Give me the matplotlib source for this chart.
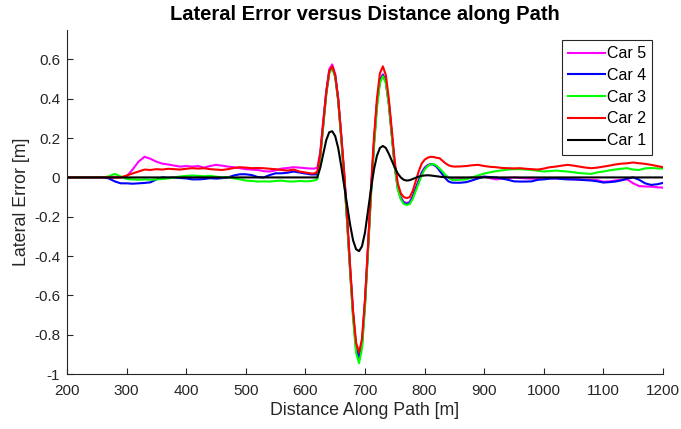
import numpy as np
import matplotlib
matplotlib.use("Agg")
import matplotlib.pyplot as plt
from matplotlib.ticker import FuncFormatter

plt.rcParams['font.family'] = ['Liberation Sans', 'DejaVu Sans']

# distance grid (m): coarse before/after the manoeuvre, fine through it
distance = np.concatenate([np.arange(200, 611, 10),
                           np.arange(615, 851, 5),
                           np.arange(860, 1201, 10)])

car1 = ([0.0] * 42 +
        [0.0, 0.0, 0.05, 0.12, 0.19, 0.23, 0.235, 0.21, 0.15, 0.06,
         -0.04, -0.14, -0.24, -0.32, -0.365, -0.375, -0.35, -0.28, -0.17, -0.06,
         0.04, 0.11, 0.15, 0.16, 0.15, 0.12, 0.085, 0.05, 0.02, 0.0,
         -0.012, -0.016, -0.014, -0.008, -0.002, 0.004, 0.008, 0.01, 0.011, 0.01,
         0.008, 0.006, 0.004, 0.002, 0.001, 0.0, 0.0, 0.0] +
        [0.0] * 35)

car2 = ([0.0, 0.0, 0.0, 0.0, 0.0, 0.0, 0.0, 0.0, 0.0,
         0.0, 0.01, 0.02, 0.03, 0.04, 0.038, 0.042, 0.04, 0.044, 0.042,
         0.04, 0.044, 0.047, 0.045, 0.047, 0.042, 0.04, 0.038, 0.042, 0.048,
         0.052, 0.05, 0.047, 0.048, 0.047, 0.044, 0.042, 0.038, 0.035, 0.04,
         0.03, 0.025, 0.02] +
        [0.02, 0.03, 0.12, 0.28, 0.43, 0.54, 0.565, 0.52, 0.40, 0.22,
         0.03, -0.20, -0.45, -0.68, -0.84, -0.89, -0.82, -0.62, -0.35, -0.06,
         0.20, 0.40, 0.53, 0.565, 0.52, 0.40, 0.24, 0.08, -0.03, -0.08,
         -0.10, -0.105, -0.10, -0.07, -0.02, 0.03, 0.07, 0.09, 0.10, 0.105,
         0.104, 0.10, 0.098, 0.085, 0.072, 0.062, 0.057, 0.055] +
        [0.056, 0.058, 0.062, 0.064, 0.058, 0.054, 0.052, 0.048, 0.047, 0.046,
         0.047, 0.044, 0.042, 0.04, 0.045, 0.052, 0.055, 0.06, 0.064, 0.06,
         0.055, 0.05, 0.047, 0.05, 0.055, 0.06, 0.066, 0.07, 0.072, 0.076,
         0.072, 0.069, 0.064, 0.058, 0.052])

car3 = ([0.0, 0.0, 0.0, 0.0, 0.0, 0.0, 0.0,
         0.005, 0.018, 0.005, -0.008, -0.01, -0.012, -0.01, -0.012, -0.01, -0.008,
         -0.005, 0.0, 0.005, 0.008, 0.01, 0.008, 0.006, 0.008, 0.004, 0.0,
         0.002, -0.005, -0.01, -0.016, -0.018, -0.021, -0.02, -0.021, -0.018, -0.016,
         -0.02, -0.021, -0.018, -0.02, -0.018] +
        [-0.015, -0.01, 0.10, 0.26, 0.42, 0.53, 0.555, 0.51, 0.39, 0.20,
         0.0, -0.23, -0.48, -0.72, -0.89, -0.945, -0.87, -0.66, -0.38, -0.10,
         0.15, 0.35, 0.48, 0.515, 0.48, 0.37, 0.21, 0.05, -0.06, -0.11,
         -0.135, -0.14, -0.135, -0.11, -0.07, -0.03, 0.01, 0.04, 0.058, 0.066,
         0.068, 0.06, 0.045, 0.03, 0.012, 0.0, -0.012, -0.013] +
        [-0.012, -0.01, 0.0, 0.01, 0.02, 0.026, 0.032, 0.036, 0.04, 0.042,
         0.042, 0.04, 0.038, 0.034, 0.03, 0.032, 0.035, 0.032, 0.03, 0.026,
         0.022, 0.02, 0.018, 0.026, 0.03, 0.036, 0.04, 0.044, 0.047, 0.04,
         0.038, 0.046, 0.048, 0.046, 0.045])

car4 = ([0.0, 0.0, 0.0, 0.0, 0.0, 0.0, 0.0,
         -0.005, -0.02, -0.03, -0.03, -0.032, -0.03, -0.028, -0.025, -0.01, 0.0,
         -0.002, 0.0, -0.003, -0.005, -0.01, -0.01, -0.008, -0.004, -0.006, -0.004,
         0.0, 0.01, 0.016, 0.016, 0.012, 0.002, 0.0, 0.012, 0.021, 0.021,
         0.024, 0.03, 0.025, 0.02, 0.015] +
        [0.015, 0.015, 0.11, 0.27, 0.43, 0.535, 0.56, 0.515, 0.395, 0.21,
         0.01, -0.22, -0.47, -0.70, -0.87, -0.92, -0.85, -0.64, -0.37, -0.08,
         0.17, 0.37, 0.49, 0.52, 0.485, 0.375, 0.215, 0.055, -0.055, -0.105,
         -0.13, -0.135, -0.13, -0.10, -0.06, -0.02, 0.02, 0.045, 0.06, 0.067,
         0.066, 0.055, 0.035, 0.015, -0.005, -0.02, -0.026, -0.027] +
        [-0.027, -0.024, -0.015, -0.005, 0.004, 0.002, 0.0, -0.006, -0.012, -0.02,
         -0.021, -0.021, -0.02, -0.012, -0.01, -0.006, -0.005, -0.008, -0.01, -0.01,
         -0.012, -0.014, -0.016, -0.02, -0.026, -0.024, -0.021, -0.015, -0.006, 0.0,
         -0.012, -0.03, -0.038, -0.035, -0.028])

car5 = ([0.0, 0.0, 0.0, 0.0, 0.0, 0.0, 0.0, 0.0, 0.0,
         0.0, 0.005, 0.04, 0.08, 0.105, 0.095, 0.08, 0.07, 0.066, 0.06,
         0.055, 0.058, 0.055, 0.058, 0.05, 0.058, 0.064, 0.06, 0.055, 0.052,
         0.047, 0.042, 0.04, 0.038, 0.032, 0.03, 0.036, 0.045, 0.048, 0.052,
         0.05, 0.047, 0.045] +
        [0.045, 0.05, 0.13, 0.29, 0.44, 0.55, 0.575, 0.525, 0.40, 0.215,
         0.015, -0.215, -0.46, -0.69, -0.86, -0.91, -0.84, -0.63, -0.36, -0.075,
         0.175, 0.375, 0.495, 0.525, 0.49, 0.38, 0.22, 0.06, -0.05, -0.10,
         -0.125, -0.13, -0.125, -0.095, -0.055, -0.015, 0.025, 0.05, 0.063, 0.068,
         0.066, 0.055, 0.04, 0.025, 0.01, 0.0, -0.008, -0.01] +
        [-0.008, -0.004, 0.0, 0.003, 0.004, -0.004, -0.01, -0.006, -0.003, 0.0,
         -0.003, -0.005, -0.006, -0.008, -0.006, -0.005, -0.005, -0.006, -0.008, -0.01,
         -0.01, -0.012, -0.012, -0.014, -0.022, -0.02, -0.016, -0.012, -0.01, -0.03,
         -0.044, -0.046, -0.047, -0.05, -0.052])

series = [("Car 5", car5, "#FF00FF"),
          ("Car 4", car4, "#0000FF"),
          ("Car 3", car3, "#00FF00"),
          ("Car 2", car2, "#FF0000"),
          ("Car 1", car1, "#000000")]

x_ticks = [200, 300, 400, 500, 600, 700, 800, 900, 1000, 1100, 1200]
y_ticks = [-1, -0.8, -0.6, -0.4, -0.2, 0, 0.2, 0.4, 0.6]

fig = plt.figure(figsize=(6.81, 4.29), dpi=100)
ax = fig.add_axes([67 / 681, 55 / 429, 596 / 681, 344 / 429])

for label, vals, color in series:
    ax.plot(distance, vals, color=color, lw=1.5, label=label)

ax.set_xlim(200, 1200)
ax.set_ylim(-1, 0.75)
ax.set_xticks(x_ticks)
ax.set_yticks(y_ticks)
ax.yaxis.set_major_formatter(FuncFormatter(lambda v, p: f"{v:g}"))
ax.tick_params(direction='in', length=4, width=0.8, colors='#262626',
               labelsize=11, labelcolor='#262626')
ax.tick_params(axis='x', pad=7)
ax.tick_params(axis='y', pad=5)
for s in ['top', 'right']:
    ax.spines[s].set_visible(False)
for s in ['left', 'bottom']:
    ax.spines[s].set_color('#262626')
    ax.spines[s].set_linewidth(0.8)

ax.set_xlabel("Distance Along Path [m]", fontsize=12.8, color='#262626', labelpad=3)
ax.set_ylabel("Lateral Error [m]", fontsize=12.8, color='#262626', labelpad=3)
ax.set_title("Lateral Error versus Distance along Path", fontsize=14.5,
             fontweight='bold', color='black', pad=7)

leg = ax.legend(loc='upper right', bbox_to_anchor=(0.982, 0.971), borderaxespad=0,
                fontsize=11.5, handlelength=2.3, handletextpad=0.1,
                labelspacing=0.42, borderpad=0.4, fancybox=False, framealpha=1)
leg.get_frame().set_edgecolor('#262626')
leg.get_frame().set_linewidth(0.8)

fig.savefig("out.png", dpi=100)
